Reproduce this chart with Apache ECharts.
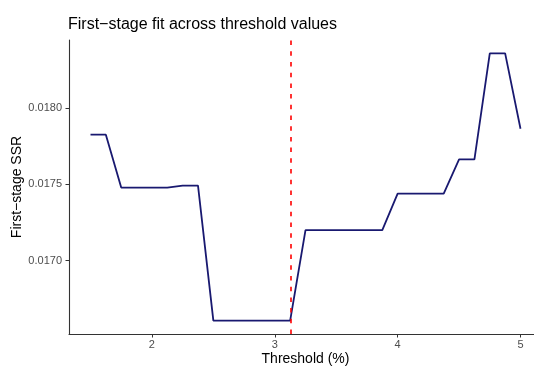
<!DOCTYPE html>
<html>
<head>
<meta charset="utf-8">
<script src="https://cdn.jsdelivr.net/npm/echarts@6/dist/echarts.min.js"></script>
<style>html,body{margin:0;padding:0;background:#fff}#c{width:534px;height:367px}</style>
</head>
<body>
<div id="c"></div>
<script>
var thresholds = [1.5,1.625,1.75,1.875,2.0,2.125,2.25,2.375,2.5,2.625,2.75,2.875,3.0,3.125,3.25,3.375,3.5,3.625,3.75,3.875,4.0,4.125,4.25,4.375,4.5,4.625,4.75,4.875,5.0];
var ssr = [0.017824,0.017824,0.017478,0.017478,0.017478,0.017478,0.017491,0.017491,0.016608,0.016608,0.016608,0.016608,0.016608,0.016608,0.017200,0.017200,0.017200,0.017200,0.017200,0.017200,0.017439,0.017439,0.017439,0.017439,0.017663,0.017663,0.018356,0.018356,0.017863];
var chosenThreshold = 3.125;
var xTicks = [2,3,4,5];
var yTicks = [0.0170,0.0175,0.0180];

var data = thresholds.map(function(x,i){return [x, ssr[i]];});
var font = "'Liberation Sans', Arial, Helvetica, sans-serif";
var redDash = {color:'#ff0000', type:[4.5,6.2], width:1.6, opacity:1};
var chart = echarts.init(document.getElementById('c'), null, {renderer:'canvas'});
chart.setOption({
  animation:false,
  backgroundColor:'#ffffff',
  title:{text:'First\u2212stage fit across threshold values', left:68, top:17, padding:0,
    textStyle:{fontFamily:font, fontSize:16, fontWeight:'normal', color:'#000'}},
  grid:{left:69, right:-8, top:40, bottom:33, containLabel:false, outerBoundsMode:'none'},
  xAxis:{type:'value', min:1.325, max:5.175,
    name:'Threshold (%)', nameLocation:'middle', nameGap:18, nameMoveOverlap:false,
    nameTextStyle:{fontFamily:font, fontSize:14, color:'#000'},
    axisLine:{show:true, onZero:false, lineStyle:{color:'#333', width:1.1}},
    axisTick:{show:true, length:3.5, customValues:xTicks, lineStyle:{color:'#333'}},
    axisLabel:{customValues:xTicks, margin:5, fontFamily:font, fontSize:11, color:'#4d4d4d'},
    splitLine:{show:false}},
  yAxis:{type:'value', min:0.016521, max:0.018443,
    name:'First\u2212stage SSR', nameLocation:'middle', nameGap:45, nameRotate:90, nameMoveOverlap:false,
    nameTextStyle:{fontFamily:font, fontSize:14, color:'#000'},
    axisLine:{show:true, onZero:false, lineStyle:{color:'#333', width:1.1}},
    axisTick:{show:true, length:3.5, customValues:yTicks, lineStyle:{color:'#333'}},
    axisLabel:{customValues:yTicks, margin:7, fontFamily:font, fontSize:11, color:'#4d4d4d',
      formatter:function(v){return v.toFixed(4);}},
    splitLine:{show:false}},
  series:[{type:'line', data:data, showSymbol:false, symbol:'none',
    lineStyle:{color:'#191970', width:1.8}, z:2,
    markLine:{silent:true, symbol:'none', label:{show:false},
      itemStyle:{color:'#ff0000'},
      lineStyle:redDash,
      emphasis:{disabled:true},
      data:[{xAxis:chosenThreshold, lineStyle:redDash, itemStyle:{color:'#ff0000'}}]}}]
});
</script>
</body>
</html>
